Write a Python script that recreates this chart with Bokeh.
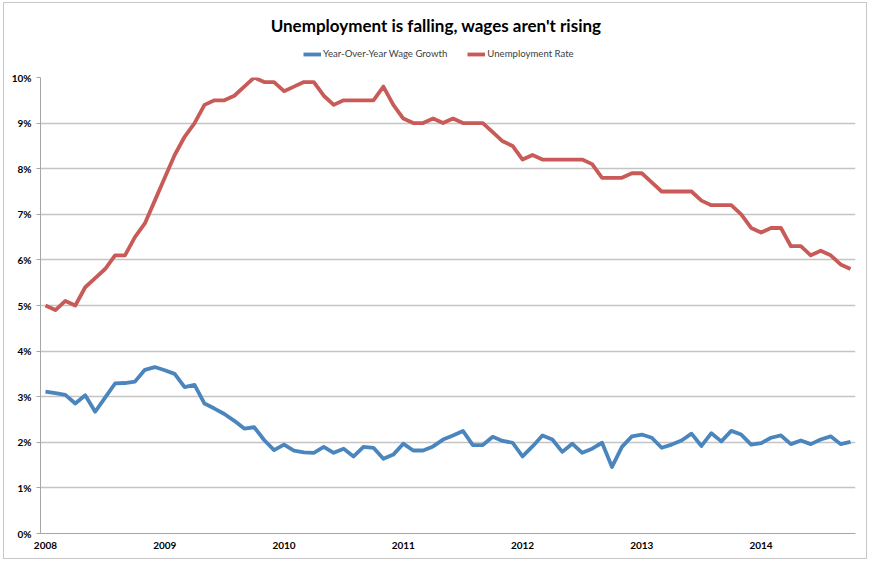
from bokeh.plotting import figure
from bokeh.layouts import column
from bokeh.models import (Range1d, FixedTicker, PrintfTickFormatter, Legend, LegendItem, Label)
from bokeh.embed import file_html
from bokeh.resources import INLINE

title_text = "Unemployment is falling, wages aren't rising"
series_names = ["Year-Over-Year Wage Growth", "Unemployment Rate"]
series_colors = ["#4A86BD", "#C85A57"]
years = ["2008", "2009", "2010", "2011", "2012", "2013", "2014"]
y_ticks = [0, 1, 2, 3, 4, 5, 6, 7, 8, 9, 10]

# Monthly values, Jan 2008 .. Oct 2014 (percent)
wage_growth = [3.11, 3.08, 3.04, 2.85, 3.03, 2.67, 2.98, 3.29, 3.30, 3.33, 3.59, 3.65,
               3.58, 3.50, 3.21, 3.26, 2.85, 2.74, 2.62, 2.47, 2.30, 2.33, 2.05, 1.83,
               1.95, 1.82, 1.78, 1.77, 1.90, 1.77, 1.86, 1.69, 1.90, 1.88, 1.64, 1.73,
               1.97, 1.82, 1.82, 1.91, 2.06, 2.15, 2.25, 1.94, 1.94, 2.12, 2.03, 1.99,
               1.69, 1.91, 2.15, 2.06, 1.79, 1.97, 1.77, 1.86, 1.99, 1.46, 1.90, 2.13,
               2.17, 2.10, 1.88, 1.95, 2.04, 2.19, 1.92, 2.20, 2.02, 2.25, 2.17, 1.95,
               1.98, 2.10, 2.15, 1.96, 2.04, 1.96, 2.06, 2.13, 1.96, 2.01]
unemployment = [5.0, 4.9, 5.1, 5.0, 5.4, 5.6, 5.8, 6.1, 6.1, 6.5, 6.8, 7.3,
                7.8, 8.3, 8.7, 9.0, 9.4, 9.5, 9.5, 9.6, 9.8, 10.0, 9.9, 9.9,
                9.7, 9.8, 9.9, 9.9, 9.6, 9.4, 9.5, 9.5, 9.5, 9.5, 9.8, 9.4,
                9.1, 9.0, 9.0, 9.1, 9.0, 9.1, 9.0, 9.0, 9.0, 8.8, 8.6, 8.5,
                8.2, 8.3, 8.2, 8.2, 8.2, 8.2, 8.2, 8.1, 7.8, 7.8, 7.8, 7.9,
                7.9, 7.7, 7.5, 7.5, 7.5, 7.5, 7.3, 7.2, 7.2, 7.2, 7.0, 6.7,
                6.6, 6.7, 6.7, 6.3, 6.3, 6.1, 6.2, 6.1, 5.9, 5.8]

months = list(range(len(unemployment)))
FONT = "Lato"
W = 862
TOP_H = 64
FRAME_W = W - 36 - 11

# ---- header strip: title + legend (frame aligned with the main chart's frame) ----
ph = figure(width=W, height=TOP_H, output_backend="svg", toolbar_location=None,
            x_range=Range1d(0, FRAME_W), y_range=Range1d(0, TOP_H),
            min_border_left=36, min_border_right=11, min_border_top=0, min_border_bottom=0,
            x_axis_type=None, y_axis_type=None)
ph.outline_line_color = None
ph.background_fill_color = "white"
ph.border_fill_color = "white"
ph.grid.visible = False

ph.add_layout(Label(x=395.5, y=TOP_H - 22, text=title_text, text_align="center",
                    text_baseline="middle", text_font=FONT, text_font_size="17px",
                    text_font_style="bold", text_color="#000000"))

# hidden copies of the two series: they only feed the legend swatches
lw = ph.line(months, wage_growth, line_color=series_colors[0], line_width=3.8, visible=False)
lu = ph.line(months, unemployment, line_color=series_colors[1], line_width=3.8, visible=False)
legend = Legend(items=[LegendItem(label=series_names[0], renderers=[lw]),
                       LegendItem(label=series_names[1], renderers=[lu])],
                orientation="horizontal", location=(263, 8),
                glyph_width=18, glyph_height=10, label_height=10, label_standoff=2,
                spacing=20, padding=0, margin=0,
                label_text_font=FONT, label_text_font_size="9.6px", label_text_color="#404040",
                inactive_fill_alpha=0,
                border_line_color=None, background_fill_alpha=0)
ph.add_layout(legend, "center")

# ---- main chart ----
p = figure(width=W, height=491, output_backend="svg", toolbar_location=None,
           x_range=Range1d(-0.5, len(months) - 0.5), y_range=Range1d(0, 10),
           min_border_left=36, min_border_right=11, min_border_top=10, min_border_bottom=25)
p.background_fill_color = "white"
p.border_fill_color = "white"
p.outline_line_color = None

p.xgrid.grid_line_color = None
p.ygrid.grid_line_color = "#c4c4c4"
p.ygrid.grid_line_width = 1.5
p.ygrid.ticker = FixedTicker(ticks=y_ticks)

p.yaxis.ticker = FixedTicker(ticks=y_ticks)
p.yaxis.formatter = PrintfTickFormatter(format="%d%%")
p.yaxis.axis_line_color = "#a6a6a6"
p.yaxis.major_tick_line_color = "#a6a6a6"
p.yaxis.major_tick_out = 4
p.yaxis.major_tick_in = 0
p.yaxis.minor_tick_line_color = None
p.yaxis.major_label_standoff = 5
p.yaxis.major_label_text_font = FONT
p.yaxis.major_label_text_font_style = "bold"
p.yaxis.major_label_text_font_size = "10px"
p.yaxis.major_label_text_color = "#000000"

p.xaxis.ticker = FixedTicker(ticks=[12 * i for i in range(len(years))])
p.xaxis.major_label_overrides = {12 * i: y for i, y in enumerate(years)}
p.xaxis.axis_line_color = "#a6a6a6"
p.xaxis.major_tick_line_color = None
p.xaxis.minor_tick_line_color = None
p.xaxis.major_tick_out = 0
p.xaxis.major_tick_in = 0
p.xaxis.major_label_standoff = 8
p.xaxis.major_label_text_font = FONT
p.xaxis.major_label_text_font_style = "bold"
p.xaxis.major_label_text_font_size = "10px"
p.xaxis.major_label_text_color = "#000000"

p.line(months, wage_growth, line_color=series_colors[0], line_width=3.8, line_join="round")
p.line(months, unemployment, line_color=series_colors[1], line_width=3.8, line_join="round")

layout = column(ph, p, spacing=0)
layout.styles = {"border": "1px solid #c8c8c8", "margin-left": "3px", "margin-top": "2px"}

open("out.html", "w").write(file_html(layout, INLINE))
